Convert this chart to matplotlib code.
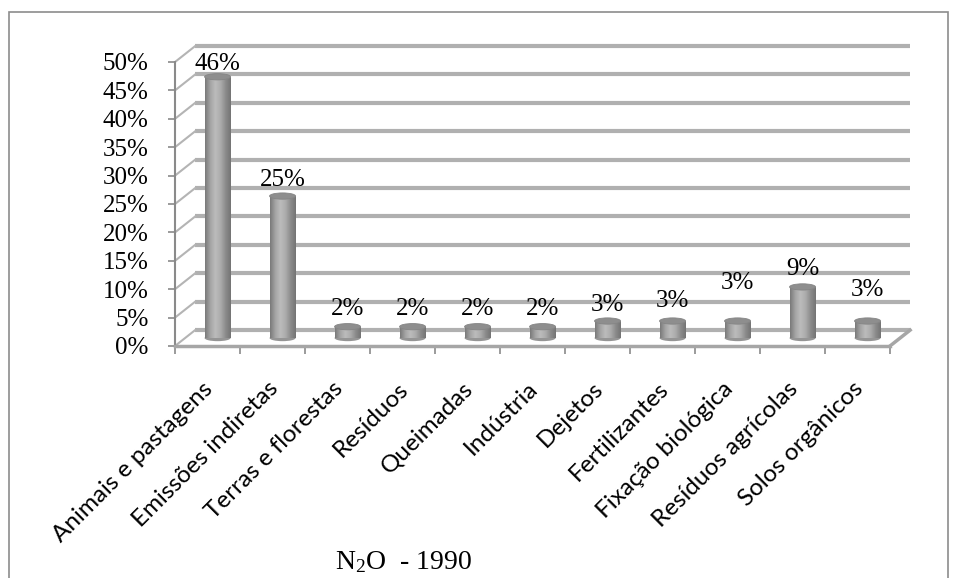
import numpy as np
import matplotlib
matplotlib.use("Agg")
import matplotlib.pyplot as plt
from matplotlib.colors import LinearSegmentedColormap
from matplotlib.patches import Ellipse, Rectangle

plt.rcParams["mathtext.fontset"] = "custom"
plt.rcParams["mathtext.rm"] = "Liberation Serif"
plt.rcParams["mathtext.it"] = "Liberation Serif:italic"

categories = [
    "Animais e pastagens", "Emissões indiretas", "Terras e florestas",
    "Resíduos", "Queimadas", "Indústria", "Dejetos", "Fertilizantes",
    "Fixação biológica", "Resíduos agrícolas", "Solos orgânicos",
]
shares = [46, 25, 2, 2, 2, 2, 3, 3, 3, 9, 3]
y_ticks = list(range(0, 55, 5))
title = r"N$_2$O  - 1990"

# how far each value label sits above its cylinder (pixels)
label_lift = [13, 16, 18, 18, 18, 18, 16, 20, 38, 18, 31]

# depth of the pseudo-3D box in data units
DX, DY = 0.31, 2.8
BAR_W = 0.4
n = len(categories)

fig = plt.figure(figsize=(9.57, 5.78), dpi=100)
W, H = 957, 578
ax = fig.add_axes([175 / W, (H - 346) / H, (930 - 175) / W, (346 - 35) / H])
XMAX, YMAX = (930 - 175) / 65, (346 - 35) / 5.68

grid_c = "#b0b0b0"
# back wall gridlines and left wall diagonals
for v in y_ticks:
    ax.plot([DX, n + DX], [v + DY, v + DY], color=grid_c, lw=3, zorder=1,
            solid_capstyle="butt")
    ax.plot([0, DX], [v, v + DY], color="#b4b4b4", lw=1.5, zorder=1)
ax.plot([n, n + DX], [0, DY], color="#a6a6a6", lw=2.5, zorder=1)

cmap = LinearSegmentedColormap.from_list(
    "cyl", ["#7a7a7a", "#a4a4a4", "#bcbcbc", "#acacac", "#8c8c8c", "#747474"])
grad = np.linspace(0, 1, 64).reshape(1, -1)

xs = np.arange(n) + 0.5 + DX / 2
base = DY / 2
bars = ax.bar(xs, shares, width=BAR_W, bottom=base, color="#9a9a9a",
              linewidth=0, zorder=3)
for x, v, b, lift in zip(xs, shares, bars, label_lift):
    x0 = x - BAR_W / 2
    img = ax.imshow(grad, cmap=cmap, aspect="auto", zorder=3.1,
                    extent=(x0, x0 + BAR_W, base, base + v))
    img.set_clip_path(b)
    ax.add_patch(Ellipse((x, base), BAR_W, 1.1, facecolor="#959595",
                         edgecolor="none", zorder=3.05))
    ax.add_patch(Ellipse((x, base + v), BAR_W, 1.1, facecolor="#8e8e8e",
                         edgecolor="#858585", lw=0.6, zorder=3.2))
    ax.annotate(f"{v}%", (x, base + v), xytext=(0, lift * 0.72),
                textcoords="offset points", ha="center", va="center",
                fontsize=18, family="Liberation Serif", zorder=4)

ax.set_xlim(0, XMAX)
ax.set_ylim(0, YMAX)

for s in ["top", "right"]:
    ax.spines[s].set_visible(False)
ax.spines["left"].set_bounds(0, 50)
ax.spines["left"].set_color("#8a8a8a")
ax.spines["left"].set_linewidth(1.5)
ax.spines["bottom"].set_bounds(0, n)
ax.spines["bottom"].set_color("#a6a6a6")
ax.spines["bottom"].set_linewidth(2.5)
ax.patch.set_visible(False)

ax.set_yticks(y_ticks)
ax.set_yticklabels([f"{t}%" for t in y_ticks], family="Liberation Serif",
                   fontsize=18)
ax.tick_params(axis="y", length=5, width=1.2, color="#8a8a8a", pad=14)

ax.set_xticks(np.arange(n + 1))
ax.set_xticklabels([])
ax.tick_params(axis="x", which="major", length=6, width=1.2, color="#8a8a8a")
ax.set_xticks(np.arange(n) + 0.42, minor=True)
ax.set_xticklabels(categories, minor=True, rotation=45, ha="right",
                   rotation_mode="anchor", family="Lato", fontsize=17.5)
ax.tick_params(axis="x", which="minor", length=0, pad=23)

fig.text(404 / W, 1 - 562 / H, title, ha="center", va="center",
         fontsize=20, family="Liberation Serif")

fig.add_artist(Rectangle((8.5 / W, -0.05), (948 - 8.5) / W, 1.05 - 12 / H,
                         transform=fig.transFigure, fill=False,
                         edgecolor="#8c8c8c", lw=1.2))

fig.savefig("out.png", dpi=100)
